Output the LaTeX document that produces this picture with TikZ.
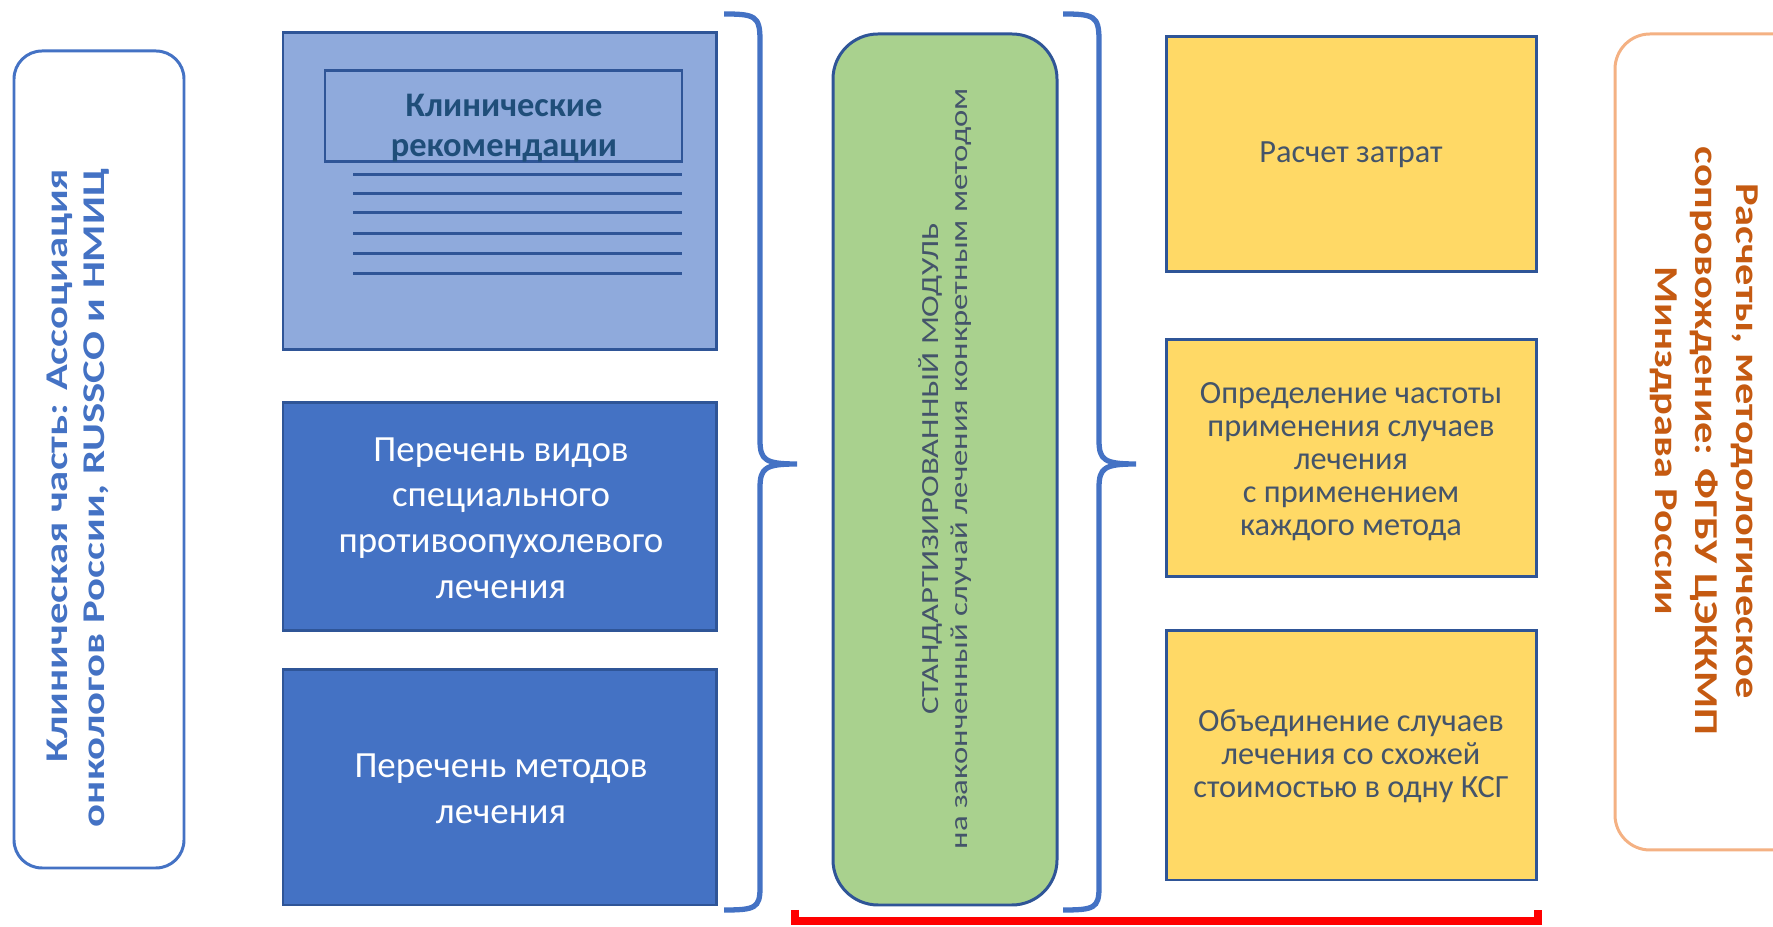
\documentclass[tikz,border=0pt]{standalone}
\usepackage{fontspec}
\setmainfont{Carlito}

\definecolor{bluebrd}{HTML}{2F5597}
\definecolor{bluemid}{HTML}{4472C4}
\definecolor{bluelight}{HTML}{8FAADC}
\definecolor{bluedark}{HTML}{1F4E79}
\definecolor{greenfill}{HTML}{A9D18E}
\definecolor{yellowfill}{HTML}{FFD966}
\definecolor{slate}{HTML}{44546A}
\definecolor{orangebrd}{HTML}{F4B183}
\definecolor{orangetxt}{HTML}{C55A11}

\tikzset{
	darktext/.style={text=white, align=center, font=\fontsize{10.5}{13}\selectfont},
	yellowtext/.style={text=slate, align=center, font=\fontsize{9.2}{9.4}\selectfont},
	brace/.style={bluemid, line width=1.5pt},
}

\begin{document}
\begin{tikzpicture}[x=0.1mm, y=-0.1mm]
		\useasboundingbox (0,0) rectangle (1773,927);

		\draw[bluemid, line width=0.85pt, fill=white, rounded corners=2.8mm] (14,51) rectangle (184,868);
		\node[text=bluemid, font=\fontsize{9}{10.6}\selectfont\bfseries, align=right, rotate=90, xscale=1.35] (clinical) at (78,498) {Клиническая часть: Ассоциация\\онкологов России, RUSSCO и НМИЦ};

		\draw[fill=bluelight, draw=bluebrd, line width=0.85pt] (283,33) rectangle (716,350);
		\draw[draw=bluebrd, line width=0.85pt] (325,71) rectangle (682,162);
		\node[text=bluedark, font=\fontsize{9.8}{11.3}\selectfont\bfseries, align=center] (guideline) at (504,128) {Клинические\\рекомендации};
		\foreach \y in {175,194,213,234,254,274}
			\draw[bluebrd, line width=0.85pt] (353,\y) -- (682,\y);

		\draw[fill=bluemid, draw=bluebrd, line width=0.85pt] (283,403) rectangle (716,631);
		\node[darktext] (kinds) at (501,518) {Перечень видов\\специального\\противоопухолевого\\лечения};

		\draw[fill=bluemid, draw=bluebrd, line width=0.85pt] (283,670) rectangle (716,905);
		\node[darktext] (methods) at (501,789) {Перечень методов\\лечения};

		\draw[brace] (724,14) .. controls (755,14) and (760,16) .. (760,40) -- (760,440) .. controls (760,460) and (765,464) .. (797,464) .. controls (765,464) and (760,468) .. (760,488) -- (760,888) .. controls (760,908) and (755,910) .. (724,910);

		\draw[fill=greenfill, draw=bluebrd, line width=0.85pt, rounded corners=4.5mm] (833,34) rectangle (1057,905);
		\node[text=slate, font=\fontsize{7}{8.4}\selectfont, align=center, rotate=90, xscale=1.33] (module) at (945,469) {СТАНДАРТИЗИРОВАННЫЙ МОДУЛЬ\\на законченный случай лечения конкретным методом};

		\draw[brace] (1063,14) .. controls (1094,14) and (1099,16) .. (1099,40) -- (1099,440) .. controls (1099,460) and (1104,464) .. (1136,464) .. controls (1104,464) and (1099,468) .. (1099,488) -- (1099,888) .. controls (1099,908) and (1094,910) .. (1063,910);

		\draw[fill=yellowfill, draw=bluebrd, line width=0.85pt] (1166,37) rectangle (1536,272);
		\node[yellowtext] (costs) at (1351,155) {Расчет затрат};

		\draw[fill=yellowfill, draw=bluebrd, line width=0.85pt] (1166,340) rectangle (1536,577);
		\node[yellowtext] (frequency) at (1351,462) {Определение частоты\\применения случаев\\лечения\\с применением\\каждого метода};

		\draw[fill=yellowfill, draw=bluebrd, line width=0.85pt] (1166,631) rectangle (1536,880);
		\node[yellowtext] (grouping) at (1351,756) {Объединение случаев\\лечения со схожей\\стоимостью в одну КСГ};

		\draw[orangebrd, line width=0.85pt, fill=white, rounded corners=3.5mm] (1615,34) rectangle (1810,850);
		\node[text=orangetxt, font=\fontsize{9.5}{11.5}\selectfont\bfseries, align=center, rotate=-90, xscale=1.27] (support) at (1704,441) {Расчеты, методологическое\\сопровождение: ФГБУ ЦЭККМП\\Минздрава России};

		\draw[red, line width=2pt] (795,910) -- (795,921) -- (1538,921) -- (1538,910);
	\end{tikzpicture}
\end{document}
